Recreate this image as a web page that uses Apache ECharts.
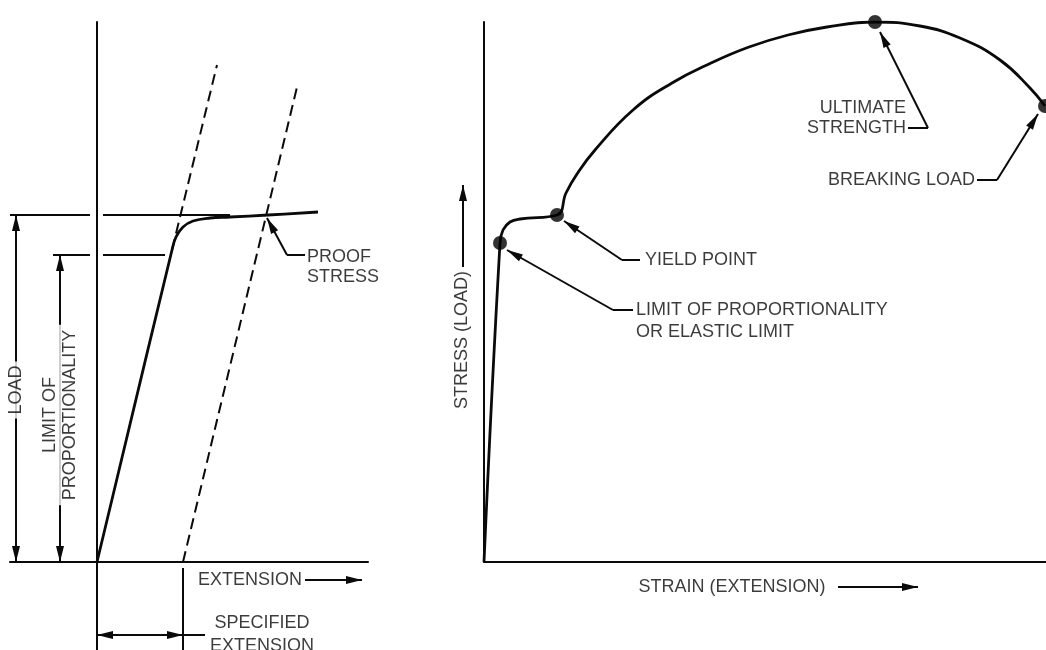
<!DOCTYPE html>
<html>
<head>
<meta charset="utf-8">
<title>Load / extension and stress / strain</title>
<script src="https://cdn.jsdelivr.net/npm/echarts@6/dist/echarts.min.js"></script>
<style>
    html, body { margin: 0; padding: 0; background: #fff; }
    #main { width: 1046px; height: 650px; }
</style>
</head>
<body>
<div id="main"></div>
<script>
// ---- left diagram: load against extension (proof stress) ----
var loadCurve = [[0, 0], [7.5, 31.2], [7.9, 32.5], [8.6, 33.5], [9.6, 34.1], [11.3, 34.4], [13.3, 34.5], [17.1, 34.7], [22.1, 35.0]];
var elasticLine = [[7.5, 31.2], [12.0, 49.7]];
var offsetLine = [[8.6, 0], [20.0, 47.5]];
var proofLoad = 34.7;
var propLoad = 30.7;
var specifiedExt = 8.6;

// ---- right diagram: stress against strain ----
var stressStrain = [[0, 0], [1.6, 31.9], [1.9, 33.2], [2.6, 34.0], [3.6, 34.3], [7.3, 34.7],
    [8.2, 36.9], [9.3, 38.8], [11.1, 41.2], [14.9, 45.2], [18.8, 47.9], [22.7, 49.9], [26.5, 51.5], [30.4, 52.7],
    [34.3, 53.5], [39.1, 54.0], [43.6, 53.6], [47.6, 52.4], [51.6, 50.2], [54.6, 47.4], [56.1, 45.6]];
var keyPoints = [[1.6, 31.9], [7.3, 34.7], [39.1, 54.0], [56.1, 45.6]];
var keyNames = ['LIMIT OF PROPORTIONALITY\nOR ELASTIC LIMIT', 'YIELD POINT', 'ULTIMATE\nSTRENGTH', 'BREAKING LOAD'];

// leader lines: [arrow tip, elbow, tail end]
var proofLeader = [[17.0, 34.4], [19.0, 30.7], [20.8, 30.7]];
var keyLeaders = [
    [[2.3, 31.2], [12.9, 25.2], [14.9, 25.2]],
    [[8.0, 34.1], [13.8, 30.2], [15.6, 30.2]],
    [[39.6, 53.0], [44.4, 43.4], [42.4, 43.4]],
    [[55.4, 44.8], [51.3, 38.2], [49.3, 38.2]]
];

var INK = '#0a0a0a';
var FONT = 'Liberation Sans, Arial, sans-serif';
// filled arrow head; its tip sits in the middle of the symbol box, on the line end
var ARROW = 'path://M0,0L0.01,0ZM0,16L4,32L-4,32Z';

function seg(a, b) {
    return { coords: [a, b] };
}

function linesSeries(grid, data, arrows, width) {
    return {
        type: 'lines',
        coordinateSystem: 'cartesian2d',
        xAxisIndex: grid,
        yAxisIndex: grid,
        clip: false,
        silent: true,
        z: 3,
        symbol: arrows,
        symbolSize: [[8, 32], [8, 32]],
        lineStyle: { color: INK, width: width || 2, opacity: 1, curveness: 0 },
        data: data
    };
}

function textSeries(grid, items) {
    return {
        type: 'scatter',
        xAxisIndex: grid,
        yAxisIndex: grid,
        clip: false,
        silent: true,
        z: 6,
        symbolSize: 1,
        itemStyle: { color: 'rgba(0,0,0,0)' },
        label: {
            show: true,
            position: 'inside',
            color: INK,
            fontFamily: FONT,
            fontSize: 18,
            lineHeight: 22,
            verticalAlign: 'middle'
        },
        data: items
    };
}

function txt(pos, text, extra) {
    var label = { formatter: text };
    for (var k in extra) {
        label[k] = extra[k];
    }
    return { value: pos, label: label };
}

function hiddenAxis(min, max, grid) {
    return {
        type: 'value',
        gridIndex: grid,
        min: min,
        max: max,
        axisLine: { show: true, onZero: true, lineStyle: { color: INK, width: 2 } },
        axisTick: { show: false },
        axisLabel: { show: false },
        splitLine: { show: false }
    };
}

var keyTails = keyLeaders.map(function (l) { return seg(l[2], l[1]); });
var keyArrows = keyLeaders.map(function (l) { return seg(l[1], l[0]); });

var myChart = echarts.init(document.getElementById('main'), null, { renderer: 'canvas' });
var option = {
    backgroundColor: '#fff',
    animation: false,
    grid: [
        { left: 10, top: 22, width: 358, height: 628 },
        { left: 484, top: 22, width: 562, height: 540 }
    ],
    xAxis: [hiddenAxis(-8.7, 27.1, 0), hiddenAxis(0, 56.2, 1)],
    yAxis: [hiddenAxis(-8.8, 54, 0), hiddenAxis(0, 54, 1)],
    series: [
        {
            type: 'line', xAxisIndex: 0, yAxisIndex: 0, data: loadCurve,
            smooth: 0.4, symbol: 'none', silent: true, z: 4,
            lineStyle: { color: INK, width: 2.8 }
        },
        {
            type: 'line', xAxisIndex: 0, yAxisIndex: 0, data: elasticLine,
            symbol: 'none', silent: true,
            lineStyle: { color: INK, width: 2, type: [11, 6] }
        },
        {
            type: 'line', xAxisIndex: 0, yAxisIndex: 0, data: offsetLine,
            symbol: 'none', silent: true,
            lineStyle: { color: INK, width: 2, type: [11, 6] }
        },
        linesSeries(0, [
            seg([-8.7, proofLoad], [-0.7, proofLoad]),
            seg([0.6, proofLoad], [13.3, proofLoad]),
            seg([-4.4, propLoad], [-0.7, propLoad]),
            seg([0.6, propLoad], [6.8, propLoad]),
            seg([specifiedExt, -0.6], [specifiedExt, -8.8]),
            seg([specifiedExt, -7.3], [10.8, -7.3]),
            seg(proofLeader[2], proofLeader[1])
        ], ['none', 'none']),
        linesSeries(0, [
            seg(proofLeader[1], proofLeader[0]),
            seg([20.8, -1.8], [26.5, -1.8])
        ], ['none', ARROW]),
        linesSeries(0, [
            seg([-8.1, 0], [-8.1, proofLoad]),
            seg([-3.7, 0], [-3.7, propLoad]),
            seg([0, -7.3], [specifiedExt, -7.3])
        ], [ARROW, ARROW]),
        textSeries(0, [
            txt([-8.1, 17.2], 'LOAD', { rotate: 90, backgroundColor: '#fff', padding: [0, 4] }),
            txt([-3.7, 14.7], 'LIMIT OF\nPROPORTIONALITY', { rotate: 90, lineHeight: 20, backgroundColor: '#fff', padding: [0, 5] }),
            txt([21.0, 29.5], 'PROOF\nSTRESS', { align: 'left', lineHeight: 20 }),
            txt([10.1, -1.8], 'EXTENSION', { align: 'left' }),
            txt([16.5, -7.3], 'SPECIFIED\nEXTENSION', { align: 'center', lineHeight: 23 })
        ]),

        {
            type: 'line', xAxisIndex: 1, yAxisIndex: 1, data: stressStrain,
            smooth: 0.45, symbol: 'none', silent: true, z: 4,
            lineStyle: { color: INK, width: 2.8 }
        },
        {
            type: 'scatter', xAxisIndex: 1, yAxisIndex: 1, data: keyPoints,
            symbolSize: 14, silent: true, clip: false, z: 5,
            itemStyle: { color: '#000' }
        },
        linesSeries(1, keyTails, ['none', 'none']),
        linesSeries(1, keyArrows.concat([
            seg([-2.1, 29.5], [-2.1, 37.7]),
            seg([35.4, -2.5], [43.4, -2.5])
        ]), ['none', ARROW]),
        textSeries(1, [
            txt([15.2, 24.05], keyNames[0], { align: 'left' }),
            txt([16.1, 30.2], keyNames[1], { align: 'left' }),
            txt([42.2, 44.4], keyNames[2], { align: 'right', lineHeight: 20 }),
            txt([49.1, 38.2], keyNames[3], { align: 'right' }),
            txt([-2.2, 22.2], 'STRESS (LOAD)', { rotate: 90 }),
            txt([24.8, -2.5], 'STRAIN (EXTENSION)', { align: 'center' })
        ])
    ]
};
myChart.setOption(option);
</script>
</body>
</html>
